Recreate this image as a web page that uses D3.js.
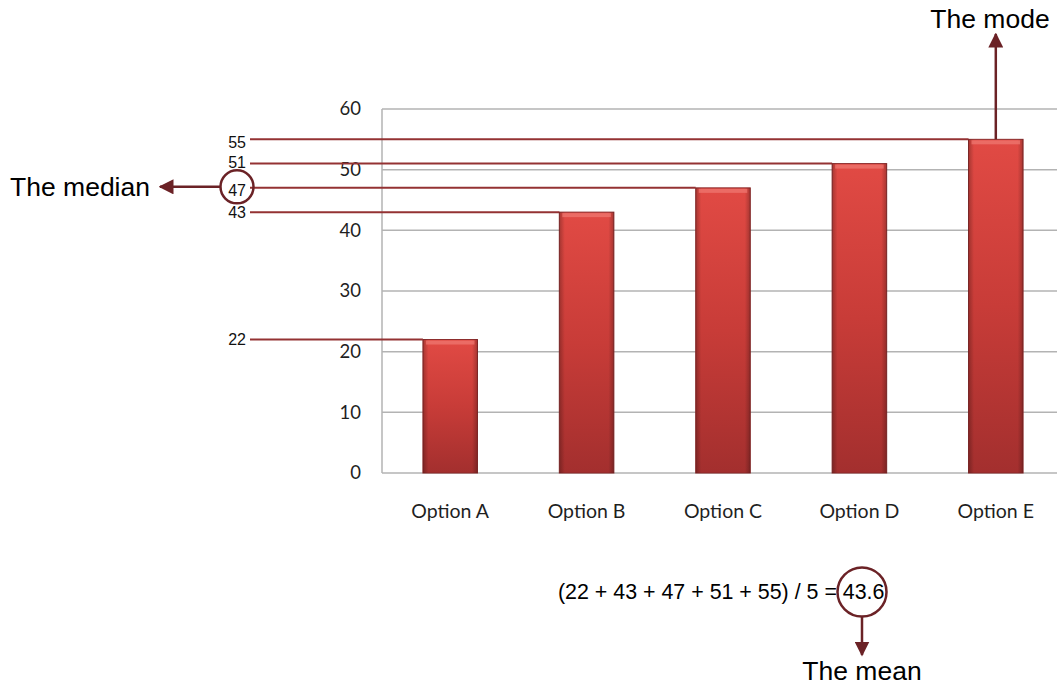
<!DOCTYPE html>
<html><head><meta charset="utf-8">
<script src="https://cdn.jsdelivr.net/npm/d3@7"></script>
<style>body{margin:0;background:#fff}svg{display:block}</style>
</head><body>
<svg id="c" width="1057" height="686"></svg>
<script>
const categories = ["Option A","Option B","Option C","Option D","Option E"];
const values = [22, 43, 47, 51, 55];
const yTicks = [0,10,20,30,40,50,60];
const medianValue = 47;
const modeValue = 55;
const meanText = "(22 + 43 + 47 + 51 + 55) / 5 = ";
const meanValue = "43.6";

const svg = d3.select("#c");
const x = d3.scaleBand().domain(categories).range([382, 1064]).paddingInner(0.6).paddingOuter(0.3);
const y = d3.scaleLinear().domain([0, 60]).range([473, 109]);

const defs = svg.append("defs");
const g1 = defs.append("linearGradient").attr("id","barV").attr("x1",0).attr("y1",0).attr("x2",0).attr("y2",1);
g1.append("stop").attr("offset","0").attr("stop-color","#e14a44");
g1.append("stop").attr("offset","0.5").attr("stop-color","#c83c38");
g1.append("stop").attr("offset","1").attr("stop-color","#a32f2e");
const g2 = defs.append("linearGradient").attr("id","barH").attr("x1",0).attr("y1",0).attr("x2",1).attr("y2",0);
g2.append("stop").attr("offset","0").attr("stop-color","#000").attr("stop-opacity",0.25);
g2.append("stop").attr("offset","0.1").attr("stop-color","#000").attr("stop-opacity",0);
g2.append("stop").attr("offset","0.9").attr("stop-color","#000").attr("stop-opacity",0);
g2.append("stop").attr("offset","1").attr("stop-color","#000").attr("stop-opacity",0.25);
const mk = defs.append("marker").attr("id","arr").attr("viewBox","0 0 10 10").attr("refX",9).attr("refY",5)
  .attr("markerWidth",6).attr("markerHeight",6).attr("markerUnits","strokeWidth").attr("orient","auto");
mk.append("path").attr("d","M0,0 L10,5 L0,10 z").attr("fill","#6b2226");

const ARIAL = "Arial, 'Liberation Sans', sans-serif";
const CAL = "Lato, 'Open Sans', sans-serif";

// gridlines
svg.append("g").selectAll("line").data(yTicks).join("line")
  .attr("x1",382).attr("x2",1057).attr("y1",d=>y(d)).attr("y2",d=>y(d))
  .attr("stroke","#b3b3b3").attr("stroke-width",1.5);
svg.append("line").attr("x1",382).attr("x2",382).attr("y1",y(60)).attr("y2",y(0)).attr("stroke","#b3b3b3").attr("stroke-width",1.5);

// y tick labels
svg.append("g").selectAll("text").data(yTicks).join("text")
  .attr("x",361).attr("y",d=>y(d)).attr("dy","0.35em").attr("text-anchor","end")
  .attr("font-family",CAL).attr("font-size",18.5).attr("fill","#1f1f1f")
  .text(d=>d);

// category labels
svg.append("g").selectAll("text").data(categories).join("text")
  .attr("x",d=>x(d)+x.bandwidth()/2).attr("y",511).attr("dy","0.35em").attr("text-anchor","middle")
  .attr("font-family",CAL).attr("font-size",19.5).attr("fill","#1f1f1f")
  .text(d=>d);

// annotation lines
svg.append("g").selectAll("line").data(values).join("line")
  .attr("x1",250).attr("x2",(d,i)=>x(categories[i])).attr("y1",d=>y(d)).attr("y2",d=>y(d))
  .attr("stroke","#943233").attr("stroke-width",2);
svg.append("g").selectAll("text").data(values).join("text")
  .attr("x",246).attr("y",d=>y(d)+ (d===55?3:(d===47?3:(d===51?-1:0)))).attr("dy","0.35em").attr("text-anchor","end")
  .attr("font-family",ARIAL).attr("font-size",16).attr("fill","#111")
  .text(d=>d);

// bars
const bars = svg.append("g").selectAll("g").data(values).join("g");
bars.append("rect").attr("x",(d,i)=>x(categories[i])).attr("width",x.bandwidth())
  .attr("y",d=>y(d)).attr("height",d=>y(0)-y(d)).attr("fill","url(#barV)").attr("stroke","#8a2a2a").attr("stroke-width",1);
bars.append("rect").attr("x",(d,i)=>x(categories[i])).attr("width",x.bandwidth())
  .attr("y",d=>y(d)).attr("height",d=>y(0)-y(d)).attr("fill","url(#barH)");
bars.append("rect").attr("x",(d,i)=>x(categories[i])+3).attr("width",x.bandwidth()-6)
  .attr("y",d=>y(d)+1).attr("height",4).attr("fill","#f07a74").attr("opacity",0.7);

// median circle + arrow
const my = y(medianValue);
svg.append("circle").attr("cx",237).attr("cy",my-1).attr("r",16.5).attr("fill","none").attr("stroke","#6b2226").attr("stroke-width",2.5);
svg.append("line").attr("x1",220).attr("x2",160).attr("y1",my-1).attr("y2",my-1).attr("stroke","#6b2226").attr("stroke-width",2.5).attr("marker-end","url(#arr)");
svg.append("text").attr("x",150).attr("y",my-1).attr("dy","0.35em").attr("text-anchor","end")
  .attr("font-family",ARIAL).attr("font-size",26.5).attr("fill","#000").text("The median");

// mode arrow
const mx = x(categories[values.indexOf(modeValue)]) + x.bandwidth()/2;
svg.append("line").attr("x1",mx).attr("x2",mx).attr("y1",y(modeValue)).attr("y2",34).attr("stroke","#6b2226").attr("stroke-width",2.5).attr("marker-end","url(#arr)");
svg.append("text").attr("x",990).attr("y",19).attr("dy","0.35em").attr("text-anchor","middle")
  .attr("font-family",ARIAL).attr("font-size",26.5).attr("fill","#000").text("The mode");

// mean
const mt = svg.append("text").attr("x",558).attr("y",592).attr("dy","0.35em")
  .attr("font-family",ARIAL).attr("font-size",21.4).attr("fill","#000");
mt.append("tspan").text(meanText);
mt.append("tspan").text(meanValue);
svg.append("circle").attr("cx",862).attr("cy",592).attr("r",24.5).attr("fill","none").attr("stroke","#6b2226").attr("stroke-width",2.5);
svg.append("line").attr("x1",862).attr("x2",862).attr("y1",617).attr("y2",655).attr("stroke","#6b2226").attr("stroke-width",2.5).attr("marker-end","url(#arr)");
svg.append("text").attr("x",862).attr("y",671).attr("dy","0.35em").attr("text-anchor","middle")
  .attr("font-family",ARIAL).attr("font-size",26.5).attr("fill","#000").text("The mean");
</script>
</body></html>
